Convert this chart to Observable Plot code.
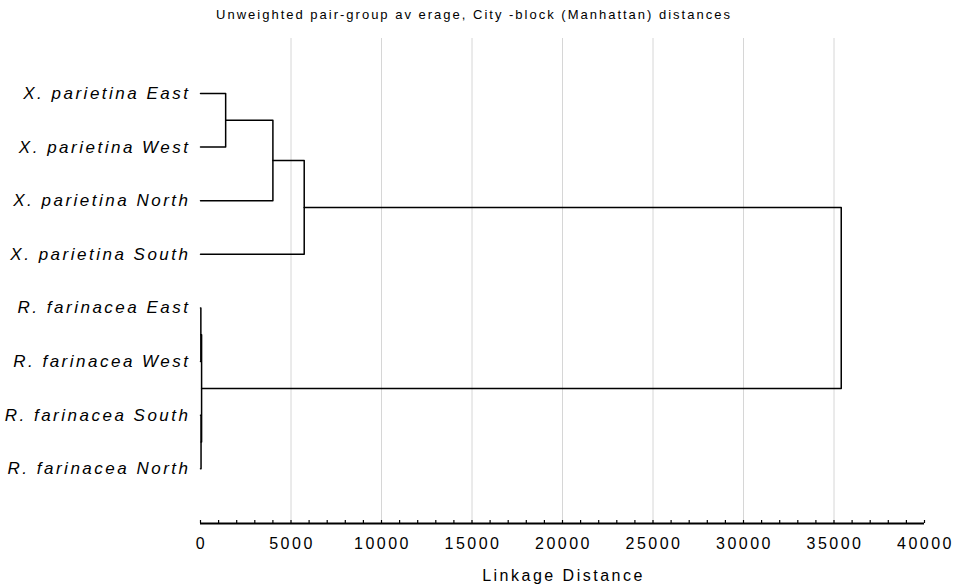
<!DOCTYPE html>
<html>
<head>
<meta charset="utf-8">
<script src="https://cdn.jsdelivr.net/npm/d3@7"></script>
<script src="https://cdn.jsdelivr.net/npm/@observablehq/plot@0.6"></script>
<style>
  html, body { margin: 0; padding: 0; background: #fff; }
  #wrap { width: 956px; position: relative; }
  #title { height: 30px; position: relative; font-family: "Liberation Sans", Arial, sans-serif; font-size: 13px; letter-spacing: 2px; color: #000; }
  #title span { position: absolute; left: 0; width: 948px; top: 7px; text-align: center; white-space: nowrap; }
</style>
</head>
<body>
<div id="wrap">
  <div id="title"><span>Unweighted pair-group av erage, City -block (Manhattan) distances</span></div>
  <div id="chart"></div>
</div>
<script>
// Leaves, in display order (top to bottom)
const leaves = [
  "X. parietina East",
  "X. parietina West",
  "X. parietina North",
  "X. parietina South",
  "R. farinacea East",
  "R. farinacea West",
  "R. farinacea South",
  "R. farinacea North"
];
// Merge steps: node ids 0..7 are leaves, merge k creates node 8+k
const mergeLeft   = [0, 8, 9, 4, 6, 11, 10];
const mergeRight  = [1, 2, 3, 5, 7, 12, 13];
const mergeHeight = [1390, 4000, 5730, 20, 30, 60, 35400];

const xTicks = [0, 5000, 10000, 15000, 20000, 25000, 30000, 35000, 40000];
const gridTicks = [5000, 10000, 15000, 20000, 25000, 30000, 35000];
const minorTicks = d3.range(0, 40001, 1000);
const xLabel = "Linkage Distance";

// Build dendrogram elbows
const nodeY = leaves.map((d, i) => i);
const nodeH = leaves.map(() => 0);
const paths = [];
mergeHeight.forEach((h, k) => {
  const a = mergeLeft[k], b = mergeRight[k];
  paths.push({k, x: nodeH[a], y: nodeY[a]});
  paths.push({k, x: h, y: nodeY[a]});
  paths.push({k, x: h, y: nodeY[b]});
  paths.push({k, x: nodeH[b], y: nodeY[b]});
  nodeY.push((nodeY[a] + nodeY[b]) / 2);
  nodeH.push(h);
});

const yTop = -1.026, yBottom = 8.02;

const chart = Plot.plot({
  width: 956,
  height: 556,
  marginLeft: 200,
  marginRight: 32,
  marginTop: 8,
  marginBottom: 63,
  style: {fontFamily: "'Liberation Sans', Arial, sans-serif", fontSize: "16px", letterSpacing: "2.5px", color: "#000", background: "#fff"},
  x: {domain: [0, 40000], axis: null},
  y: {domain: [yTop, yBottom], reverse: true, axis: null},
  marks: [
    Plot.gridX({ticks: gridTicks, stroke: "#d6d6d6", strokeOpacity: 1, strokeWidth: 1}),
    Plot.ruleY([yBottom], {stroke: "#000", strokeWidth: 2}),
    Plot.axisX({ticks: minorTicks, tickSize: -3, tickFormat: () => "", label: null, stroke: "#000", strokeWidth: 1.2}),
    Plot.axisX({ticks: xTicks, tickSize: 0, tickPadding: 14, tickFormat: d => String(d), label: null, fill: "#000", dx: 1, fontSize: 16}),
    Plot.line(paths, {x: "x", y: "y", z: "k", stroke: "#000", strokeWidth: 1.5}),
    Plot.text(leaves, {y: (d, i) => i, text: d => d, frameAnchor: "left", textAnchor: "end", dx: -10, fontStyle: "italic", fontSize: 17, letterSpacing: "2.3px", fill: "#000"}),
    Plot.text([xLabel], {text: d => d, frameAnchor: "bottom", lineAnchor: "middle", dy: 52, dx: 1, fontSize: 16, fill: "#000"})
  ]
});
document.getElementById("chart").appendChild(chart);
</script>
</body>
</html>
